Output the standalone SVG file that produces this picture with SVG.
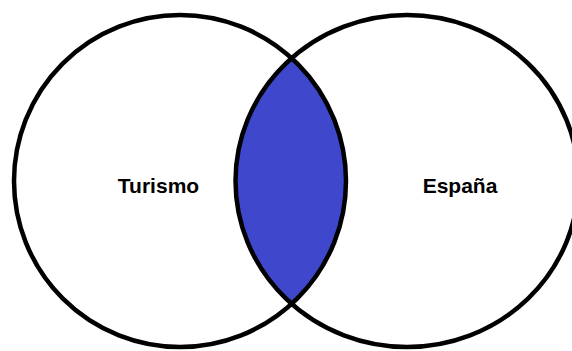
<svg xmlns="http://www.w3.org/2000/svg" width="572" height="351" viewBox="0 0 572 351">
  <style>
    .ring { fill: none; stroke: #000000; stroke-width: 4.5; }
    .label { font-family: "Liberation Sans", Arial, sans-serif; font-weight: bold; font-size: 21px; fill: #000000; text-anchor: middle; }
  </style>
  <defs>
    <clipPath id="leftClip">
      <circle cx="180" cy="181" r="166"/>
    </clipPath>
  </defs>
  <rect x="0" y="0" width="572" height="351" fill="#ffffff"/>
  <g id="intersection">
    <ellipse cx="407" cy="181" rx="171.5" ry="166" fill="#3F48CC" clip-path="url(#leftClip)"/>
  </g>
  <g id="turismo">
    <circle class="ring" cx="180" cy="181" r="166"/>
    <text class="label" x="158.5" y="193">Turismo</text>
  </g>
  <g id="espana">
    <ellipse class="ring" cx="407" cy="181" rx="171.5" ry="166"/>
    <text class="label" x="460" y="193">España</text>
  </g>
</svg>
